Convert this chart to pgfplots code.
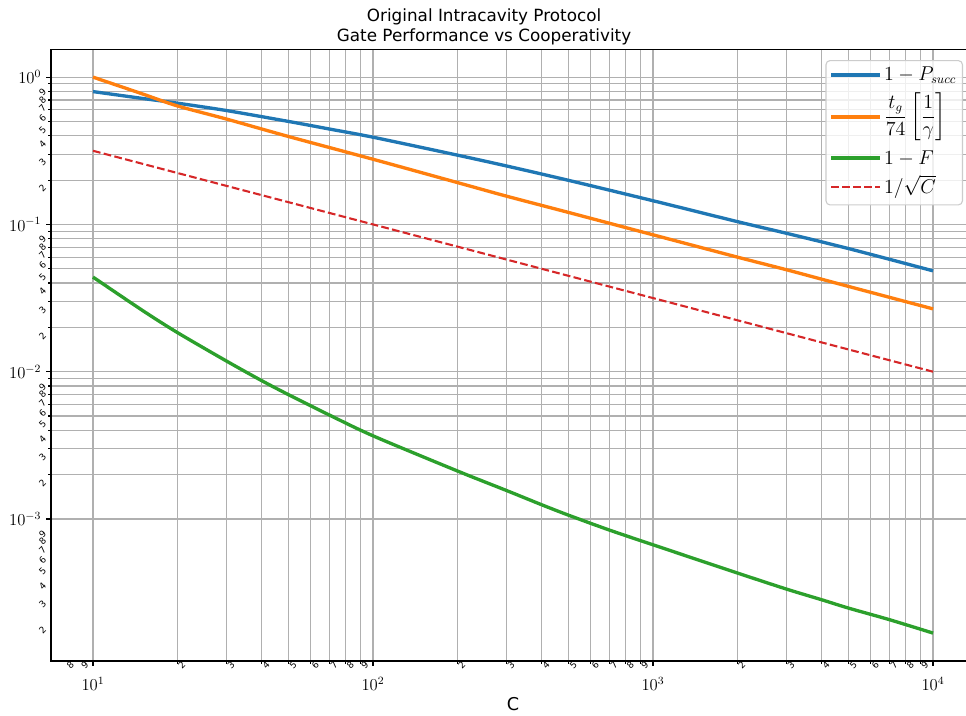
\documentclass[border=0pt]{standalone}
\usepackage{amsmath}
\usepackage[no-math]{fontspec}
\setmainfont{DejaVu Sans}
\usepackage{pgfplots}
\pgfplotsset{compat=1.18}
\usetikzlibrary{calc}
\definecolor{tabblue}{HTML}{1F77B4}
\definecolor{taborange}{HTML}{FF7F0E}
\definecolor{tabgreen}{HTML}{2CA02C}
\definecolor{tabred}{HTML}{D62728}
\definecolor{gridc}{HTML}{B0B0B0}
\definecolor{legc}{HTML}{CCCCCC}
\begin{document}
\begin{tikzpicture}
\begin{axis}[
  name=ax,
  xmode=log, ymode=log,
  scale only axis,
  width=665.3pt, height=440.4pt,
  xmin=7.0795, xmax=14125,
  ymin=1.0864e-4, ymax=1.5453,
  xtick={10,100,1000,10000},
  ytick={0.001,0.01,0.1,1},
  grid=both,
  major grid style={draw=gridc, line width=0.8pt},
  minor grid style={draw=gridc, line width=0.8pt},
  axis line style={line width=0.8pt, black},
  tick pos=left,
  tick align=outside,
  major tick length=3.5pt,
  minor tick length=2pt,
  tick style={black, line width=0.8pt},
  tick label style={font=\fontsize{12}{14}\selectfont},
  xticklabel shift=5pt,
  extra x ticks={8,9,20,30,40,50,60,70,80,90,200,300,400,500,600,700,800,900,2000,3000,4000,5000,6000,7000,8000,9000},
  extra x tick labels={8,9,2,3,4,5,6,7,8,9,2,3,4,5,6,7,8,9,2,3,4,5,6,7,8,9},
  extra y ticks={2e-4,3e-4,4e-4,5e-4,6e-4,7e-4,8e-4,9e-4,2e-3,3e-3,4e-3,5e-3,6e-3,7e-3,8e-3,9e-3,2e-2,3e-2,4e-2,5e-2,6e-2,7e-2,8e-2,9e-2,0.2,0.3,0.4,0.5,0.6,0.7,0.8,0.9},
  extra y tick labels={2,3,4,5,6,7,8,9,2,3,4,5,6,7,8,9,2,3,4,5,6,7,8,9,2,3,4,5,6,7,8,9},
  extra x tick style={grid=none, major tick length=0pt, xticklabel shift=0pt,
     xticklabel style={font=\fontsize{6.5}{7}\selectfont, rotate=45, anchor=center, yshift=-4.6pt}},
  extra y tick style={grid=none, major tick length=0pt,
     yticklabel style={font=\fontsize{6.5}{7}\selectfont, rotate=45, anchor=center, xshift=-8.5pt}},
  xlabel={C},
  xlabel style={at={(axis description cs:0.5,0)}, anchor=base, yshift=-35.3pt, font=\fontsize{12.7}{14}\selectfont},
  legend image code/.code={\draw[#1] (0pt,0pt) -- (29pt,0pt); \path (0pt,0pt) -- (35pt,0pt);},
  legend cell align=left,
  legend style={at={(0.987,0.9825)}, anchor=north east,
     draw=legc, line width=0.8pt, rounded corners=3pt,
     fill=white, fill opacity=0.8, text opacity=1,
     font=\fontsize{13.5}{16}\selectfont,
     nodes={inner sep=2pt, text depth=},
     inner xsep=2.5pt, inner ysep=2.5pt, row sep=2.8pt},
]
\addplot[tabblue, line width=2.4pt, smooth] coordinates {
 (10,0.798) (15,0.717) (20,0.666) (30,0.593) (50,0.500) (70,0.444) (100,0.391)
 (200,0.2955) (300,0.2493) (500,0.1991) (1000,0.1448) (2000,0.1045)
 (3000,0.0870) (5000,0.0685) (10000,0.0484)};
\addlegendentry{$1-P_{succ}$}
\addplot[taborange, line width=2.4pt, smooth] coordinates {
 (10,1.0) (15,0.77) (20,0.638) (30,0.519) (50,0.395) (100,0.277)
 (200,0.1925) (300,0.1555) (500,0.1205) (1000,0.085) (2000,0.0600)
 (3000,0.0492) (5000,0.0379) (10000,0.0267)};
\addlegendentry{$\dfrac{t_g}{74}\left[\dfrac{1}{\gamma}\right]$}
\addplot[tabgreen, line width=2.4pt, smooth] coordinates {
 (10,0.0439) (15,0.0261) (20,0.01846) (30,0.0118) (40,0.0087) (50,0.00697)
 (60,0.00586) (70,0.00507) (100,0.00367) (200,0.00212) (300,0.00156)
 (400,0.00125) (500,0.00106) (700,0.00084) (1000,0.000668) (2000,0.00043)
 (3000,0.000334) (4000,0.000283) (5000,0.000248) (7000,0.000207) (10000,0.000168)};
\addlegendentry{$1-F$}
\addplot[tabred, line width=1.5pt, dash pattern=on 5.55pt off 2.4pt] coordinates {
 (10,0.31623) (100,0.1) (1000,0.031623) (10000,0.01)};
\addlegendentry{$1/\sqrt{C}$}
\end{axis}
\node[anchor=base, font=\fontsize{12.1}{14}\selectfont] at ($(ax.north west)+(311.8pt,20.0pt)$) {Original Intracavity Protocol};
\node[anchor=base, font=\fontsize{12.1}{14}\selectfont] at ($(ax.north west)+(311.8pt,5.3pt)$) {Gate Performance vs Cooperativity};
\pgfresetboundingbox
\path ($(ax.south west)+(-36.72pt,-39.6pt)$) rectangle ($(ax.north west)+(658.8pt,35.5pt)$);
\end{tikzpicture}
\end{document}
